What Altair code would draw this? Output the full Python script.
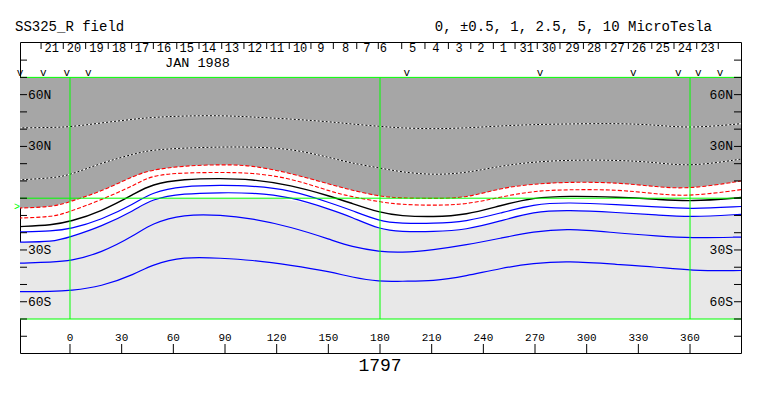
import altair as alt
import pandas as pd

# ---------------- data ----------------
LON = [-30, -10, 0, 18, 38, 47, 66, 88, 105, 128, 152, 163, 180, 192, 211, 230, 250, 269, 289, 318, 341, 360, 390]

DOT_N = [40.7, 41.0, 41.3, 43.6, 45.9, 46.8, 47.7, 47.9, 47.1, 45.9, 44.2, 43.0, 41.6, 40.7, 40.1, 40.7, 41.9, 42.7, 43.0, 43.4, 42.4, 40.5, 43.2]
DOT_S = [10.6, 11.7, 13.4, 20.4, 25.9, 27.9, 29.1, 29.7, 29.7, 28.8, 23.3, 20.4, 17.5, 15.2, 13.4, 14.6, 18.7, 21.0, 22.1, 22.1, 20.7, 18.3, 22.7]
RED_N = [-5.7, -5.1, -2.0, 3.8, 13.4, 16.3, 18.8, 19.5, 19.1, 14.6, 7.7, 4.8, 0.9, 0.1, -0.2, 0.1, 5.9, 8.2, 9.4, 9.1, 6.5, 5.3, 10.0]
RED_S = [-11.5, -10.9, -7.8, -1.0, 7.7, 13.2, 14.8, 14.9, 14.8, 11.7, 3.6, 1.0, -2.2, -3.7, -4.2, -3.7, 0.7, 4.2, 5.0, 5.0, 2.4, 1.0, 5.0]
ZERO = [-16.5, -15.5, -13.6, -7.8, 2.8, 8.0, 11.1, 11.5, 11.0, 7.7, 0.9, -2.8, -8.4, -10.3, -10.9, -9.7, -4.2, 0.3, 1.3, 0.7, -0.6, -2.0, 0.4]
BLUE_1 = [-19.6, -19.0, -17.9, -12.6, -3.0, 3.3, 7.1, 7.5, 7.2, 4.8, -3.0, -6.8, -13.5, -14.6, -14.7, -13.6, -8.6, -3.5, -2.4, -3.7, -5.1, -6.3, -4.8]
BLUE_2 = [-25.4, -25.4, -22.5, -16.5, -6.8, -0.6, 2.8, 3.2, 3.2, 0.9, -6.8, -10.7, -18.2, -19.4, -19.4, -18.4, -13.2, -7.8, -6.8, -8.3, -9.7, -11.1, -9.3]
BLUE_3 = [-37.7, -37.0, -36.4, -31.8, -21.3, -14.8, -9.2, -9.7, -11.7, -16.5, -24.2, -28.1, -31.0, -31.6, -30.0, -27.1, -23.2, -19.4, -17.4, -20.2, -21.9, -23.2, -22.5]
BLUE_4 = [-54.2, -54.1, -53.6, -51.3, -43.9, -38.7, -33.8, -34.8, -35.8, -38.7, -42.8, -45.7, -48.5, -48.0, -48.2, -45.1, -40.6, -37.7, -36.4, -38.4, -39.9, -42.0, -41.9]
# upper edge of the light grey band
LIGHT_TOP = [-25.4, -25.4, -22.5, -16.5, -6.8, -0.6, 0.0, 0.0, 0.0, 0.0, -6.8, -10.7, -18.2, -19.4, -19.4, -18.4, -13.2, -7.8, -6.8, -8.3, -9.7, -11.1, -9.3]

BOX_LAT = [70, -70]
GREEN_LON = [0, 180, 360]
GREEN_LAT = [70, 0, -70]

X_TICKS = [0, 30, 60, 90, 120, 150, 180, 210, 240, 270, 300, 330, 360]
Y_TICKS = [-80, -70, -60, -50, -40, -30, -20, -10, 0, 10, 20, 30, 40, 50, 60, 70, 80]
Y_LAB_LAT = [60, 30, -30, -60]
Y_LAB = ["60N", "30N", "30S", "60S"]

DAYS = ["21", "20", "19", "18", "17", "16", "15", "14", "13", "12", "11", "10", "9", "8", "7",
        "6", "5", "4", "3", "2", "1", "31", "30", "29", "28", "27", "26", "25", "24", "23"]
DAY_LON = [-10.6, 2.3, 15.4, 28.5, 41.8, 54.6, 67.8, 80.7, 94.1, 107.4, 120.2, 133.6, 145.7, 160.0, 172.3,
           182.0, 198.9, 212.4, 225.9, 238.5, 251.6, 265.2, 278.1, 291.8, 304.3, 317.9, 330.4, 344.1, 357.1, 370.2]
DAY_TICK_LON = [-16.8, -3.9, 9.1, 22.2, 35.8, 48.4, 62.0, 74.9, 88.1, 101.0, 114.2, 127.3, 139.9, 152.9, 166.5,
                179.0, 192.6, 206.1, 219.7, 232.7, 245.8, 258.4, 271.3, 284.5, 298.1, 311.2, 324.2, 337.8, 350.7,
                363.9, 376.4]
MARK_LON = [-29.0, -15.5, -1.9, 10.6, 195.5, 272.9, 327.1, 353.2, 364.8, 377.4]

TITLE_L = "SS325_R field"
TITLE_R = "0, \u00b10.5, 1, 2.5, 5, 10 MicroTesla"
MONTH = "JAN 1988"
ORBIT = "1797"

# ---------------- tables ----------------
W, H = 721, 311
FONT = "Liberation Mono"
INTERP = "basis"

series = {"dot_n": DOT_N, "dot_s": DOT_S, "red_n": RED_N, "red_s": RED_S, "zero": ZERO,
          "b1": BLUE_1, "b2": BLUE_2, "b3": BLUE_3, "b4": BLUE_4}
long = pd.DataFrame([{"lon": lo, "lat": la, "name": k, "order": i}
                     for k, v in series.items() for i, (lo, la) in enumerate(zip(LON, v))])
shade = pd.DataFrame({"lon": LON, "red_n": RED_N, "lt": LIGHT_TOP,
                      "top": [BOX_LAT[0]] * len(LON), "bot": [BOX_LAT[1]] * len(LON)})

xs = alt.Scale(domain=[-29.03, 389.6], nice=False, zero=False)
ys = alt.Scale(domain=[-89.7, 90.5], nice=False, zero=False)
X = alt.X("lon:Q", scale=xs, axis=None)


def yq(f):
    return alt.Y(f"{f}:Q", scale=ys, axis=None)


dark = alt.Chart(shade).mark_area(color="#a6a6a6", interpolate=INTERP, clip=True).encode(
    x=X, y=yq("red_n"), y2="top:Q")
light = alt.Chart(shade).mark_area(color="#e8e8e8", interpolate=INTERP, clip=True).encode(
    x=X, y=yq("lt"), y2="bot:Q")


def line(name, **kw):
    return alt.Chart(long).transform_filter(alt.datum.name == name).mark_line(
        interpolate=INTERP, clip=True, **kw).encode(x=X, y=yq("lat"), order="order:Q")


lines = [
    line("dot_n", color="white", strokeWidth=1),
    line("dot_n", color="black", strokeWidth=1, strokeDash=[2, 2]),
    line("dot_s", color="white", strokeWidth=1),
    line("dot_s", color="black", strokeWidth=1, strokeDash=[2, 2]),
    line("red_n", color="#ff0000", strokeWidth=1.1, strokeDash=[4, 2]),
    line("red_s", color="#ff0000", strokeWidth=1.1, strokeDash=[4, 2]),
    line("zero", color="black", strokeWidth=1.4),
    line("b1", color="#0000ff", strokeWidth=1.2),
    line("b2", color="#0000ff", strokeWidth=1.2),
    line("b3", color="#0000ff", strokeWidth=1.2),
    line("b4", color="#0000ff", strokeWidth=1.2),
]

gv = pd.DataFrame({"lon": GREEN_LON, "lo": [BOX_LAT[1]] * 3, "hi": [BOX_LAT[0]] * 3})
green_v = alt.Chart(gv).mark_rule(color="#00ff00", strokeWidth=1).encode(x=X, y=yq("lo"), y2="hi:Q")
green_h = alt.Chart(pd.DataFrame({"lat": GREEN_LAT})).mark_rule(color="#00ff00", strokeWidth=1).encode(
    y=yq("lat"), x=alt.value(0), x2=alt.value(W))

yt = pd.DataFrame({"lat": Y_TICKS})
ytick_l = alt.Chart(yt).mark_rule(color="black").encode(y=yq("lat"), x=alt.value(0), x2=alt.value(7))
ytick_r = alt.Chart(yt).mark_rule(color="black").encode(y=yq("lat"), x=alt.value(W - 7), x2=alt.value(W))
yl = pd.DataFrame({"lat": Y_LAB_LAT, "t": Y_LAB})
ylab_l = alt.Chart(yl).mark_text(font=FONT, fontSize=13, align="left", baseline="middle", dx=1).encode(
    y=yq("lat"), x=alt.value(7), text="t:N")
ylab_r = alt.Chart(yl).mark_text(font=FONT, fontSize=13, align="right", baseline="middle", dx=-1).encode(
    y=yq("lat"), x=alt.value(W - 7), text="t:N")

xt = pd.DataFrame({"lon": X_TICKS, "t": [str(v) for v in X_TICKS]})
xtick = alt.Chart(xt).mark_rule(color="black").encode(x=X, y=alt.value(H - 9), y2=alt.value(H))
xlab = alt.Chart(xt).mark_text(font=FONT, fontSize=11, baseline="middle").encode(
    x=X, y=alt.value(H - 15.5), text="t:N")

dl = pd.DataFrame({"lon": DAY_LON, "t": DAYS})
daylab = alt.Chart(dl).mark_text(font=FONT, fontSize=12, baseline="middle").encode(
    x=X, y=alt.value(6), text="t:N")
dtk = alt.Chart(pd.DataFrame({"lon": DAY_TICK_LON})).mark_rule(color="black").encode(
    x=X, y=alt.value(0), y2=alt.value(7))
mk = alt.Chart(pd.DataFrame({"lon": MARK_LON, "t": ["v"] * len(MARK_LON)})).mark_text(
    font=FONT, fontSize=11, baseline="middle").encode(x=X, y=alt.value(31), text="t:N")


def label(txt, x, y, size, align="center", color="black"):
    return alt.Chart(pd.DataFrame({"t": [txt]})).mark_text(
        font=FONT, fontSize=size, align=align, baseline="middle", color=color).encode(
        x=alt.value(x), y=alt.value(y), text="t:N")


texts = [
    label(TITLE_L, -5, -15, 14, "left"),
    label(TITLE_R, 692, -15, 14, "right"),
    label(MONTH, 177.5, 20.5, 13.5),
    label(ORBIT, 360, 324, 18),
    label(">", -3, 165, 10, "center", "#00ff00"),
]

chart = alt.layer(
    dark, light, *lines, green_v, green_h,
    ytick_l, ytick_r, ylab_l, ylab_r, xtick, xlab, daylab, dtk, mk, *texts
).properties(
    width=W, height=H,
    padding={"left": 12, "top": 34, "right": 14, "bottom": 35},
    autosize=alt.AutoSizeParams(type="none"),
).configure_view(stroke="black", strokeWidth=1)

chart.save("out.html", embed_options={"renderer": "svg", "actions": False})
